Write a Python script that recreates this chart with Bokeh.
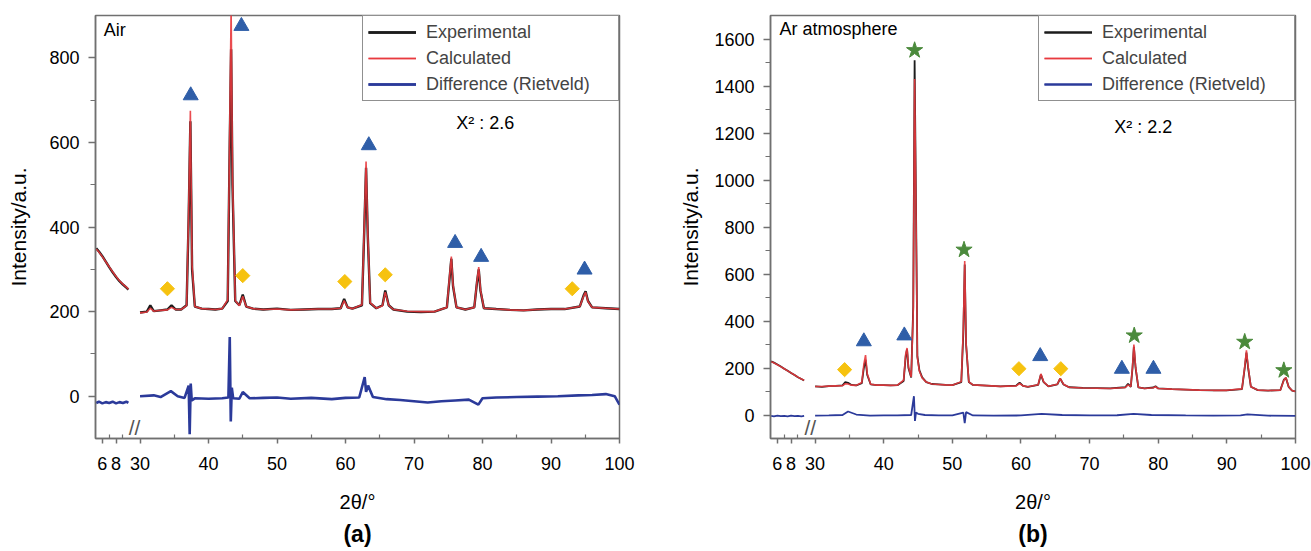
import math
from bokeh.plotting import figure
from bokeh.layouts import row
from bokeh.models import FixedTicker, Label, Legend, LegendItem, Range1d, Title
from bokeh.embed import file_html
from bokeh.resources import INLINE

FONT = "Liberation Sans"
LOW_OFFSET = 18.5  # low 2theta segment (5-10 deg) is drawn just left of the axis break at 30

# ---------------- (a) Air ----------------
AIR_LOW_2THETA = [5.1, 5.5, 6.0, 6.5, 7.0, 7.5, 8.0, 8.5, 9.0, 9.5, 9.8]
AIR_LOW_EXP = [350, 342, 331, 318, 305, 293, 282, 272, 264, 257, 252]
AIR_LOW_CALC = [348, 341, 330, 318, 306, 294, 283, 273, 265, 258, 253]
AIR_LOW_DIFF = [-16, -13, -17, -14, -16, -13, -17, -14, -16, -13, -16]

AIR_2THETA = [30.0, 31.0, 31.5, 32.0, 33.0, 34.0, 34.6, 35.2, 36.0, 36.8, 37.1, 37.35, 37.6, 38.0,
              39.0, 40.0, 41.0, 42.0, 42.8, 43.1, 43.3, 43.5, 43.9, 44.5, 45.0, 45.5, 46.5, 48.0,
              50.0, 52.0, 54.0, 56.0, 58.0, 59.3, 59.8, 60.3, 61.0, 62.4, 62.75, 63.0, 63.25, 63.6,
              64.5, 65.4, 65.8, 66.3, 67.0, 69.0, 71.0, 73.0, 74.8, 75.2, 75.45, 75.7, 76.2, 77.5,
              78.8, 79.2, 79.45, 79.7, 80.2, 82.0, 84.0, 86.0, 88.0, 90.0, 92.0, 94.2, 94.8, 95.05,
              95.4, 96.0, 98.0, 100.0]
AIR_EXP = [198, 200, 215, 201, 203, 205, 215, 205, 205, 215, 420, 650, 300, 212,
           207, 206, 205, 207, 225, 600, 820, 500, 225, 215, 240, 212, 207, 205,
           207, 204, 205, 206, 206, 208, 230, 210, 207, 215, 400, 540, 380, 220,
           208, 215, 250, 215, 205, 200, 199, 200, 210, 280, 325, 260, 210, 205,
           210, 270, 300, 250, 208, 206, 204, 203, 205, 206, 206, 212, 240, 248,
           225, 210, 208, 206]
AIR_CALC = [197, 199, 208, 201, 203, 204, 210, 205, 205, 214, 440, 675, 310, 212,
            207, 206, 205, 207, 228, 640, 920, 520, 226, 214, 236, 212, 207, 205,
            206, 204, 205, 206, 206, 208, 226, 210, 207, 216, 410, 555, 385, 221,
            208, 214, 246, 215, 205, 201, 200, 200, 210, 285, 330, 262, 210, 205,
            210, 272, 305, 252, 208, 206, 204, 203, 205, 206, 206, 212, 238, 246,
            224, 210, 208, 206]

AIR_DIFF_2THETA = [30.0, 32.0, 33.0, 34.5, 35.5, 36.5, 37.1, 37.25, 37.4, 37.55, 38.0, 40.0, 42.0,
                   42.9, 43.1, 43.25, 43.4, 43.6, 44.5, 45.0, 46.0, 48.0, 50.0, 52.0, 55.0, 58.0,
                   60.0, 62.0, 62.8, 63.0, 63.3, 64.0, 66.0, 68.0, 70.0, 72.0, 74.0, 76.0, 78.0,
                   79.4, 80.0, 82.0, 85.0, 88.0, 91.0, 94.0, 96.0, 98.0, 99.3, 100.0]
AIR_DIFF = [0, 2, -2, 12, 0, -4, 25, -90, 30, -10, -5, -6, -5,
            -3, 140, -60, 20, -5, -6, 10, -5, -4, -3, -6, -4, -7,
            -4, -3, 45, 10, 25, -2, -7, -9, -12, -15, -12, -10, -8,
            -20, -5, -3, -2, -1, 0, 2, 3, 5, 0, -20]

AIR_TRI_2THETA = [37.4, 44.8, 63.4, 76.0, 79.8, 94.9]
AIR_TRI_Y = [711, 875, 593, 362, 329, 299]
AIR_DIA_2THETA = [34.0, 45.0, 59.9, 65.8, 93.1]
AIR_DIA_Y = [254, 285, 271, 287, 254]

# ---------------- (b) Ar atmosphere ----------------
AR_LOW_2THETA = [5.1, 5.5, 6.0, 6.5, 7.0, 7.5, 8.0, 8.5, 9.0, 9.5, 9.9]
AR_LOW_EXP = [228, 223, 215, 206, 197, 188, 179, 170, 161, 153, 147]
AR_LOW_CALC = [227, 222, 214, 206, 197, 188, 179, 170, 161, 153, 148]
AR_LOW_DIFF = [-4, -6, -3, -5, -4, -6, -3, -5, -4, -6, -4]

AR_2THETA = [30.0, 31.0, 32.0, 33.0, 34.0, 34.4, 34.8, 35.3, 36.0, 36.8, 37.1, 37.35, 37.6, 38.1,
             39.0, 40.0, 41.0, 42.0, 42.9, 43.2, 43.4, 43.6, 44.0, 44.3, 44.5, 44.7, 44.9, 45.2,
             45.6, 46.2, 47.0, 48.0, 49.0, 50.0, 51.3, 51.6, 51.8, 52.0, 52.4, 53.0, 55.0, 57.0,
             59.3, 59.8, 60.3, 61.0, 62.5, 62.9, 63.3, 64.0, 65.3, 65.7, 66.2, 67.0, 69.0, 71.0,
             73.0, 75.2, 75.6, 76.0, 76.25, 76.45, 76.7, 77.1, 78.0, 79.3, 79.6, 80.0, 82.0, 84.0,
             86.0, 88.0, 90.0, 92.2, 92.6, 92.85, 93.1, 93.5, 94.5, 96.0, 97.8, 98.3, 98.6, 99.0,
             99.5, 100.0]
AR_EXP = [122, 120, 123, 124, 126, 140, 137, 128, 126, 135, 200, 235, 170, 130,
          127, 127, 126, 127, 145, 250, 280, 200, 160, 460, 1510, 900, 250, 190,
          160, 140, 132, 130, 128, 127, 140, 350, 640, 300, 140, 128, 125, 122,
          125, 138, 124, 120, 128, 172, 140, 122, 130, 155, 130, 118, 115, 114,
          113, 118, 133, 120, 200, 290, 200, 118, 113, 117, 122, 113, 110, 108,
          106, 105, 105, 110, 200, 265, 200, 120, 106, 104, 106, 150, 158, 120,
          104, 100]
AR_CALC = [121, 121, 123, 124, 125, 133, 132, 127, 126, 138, 215, 255, 175, 131,
           127, 127, 126, 127, 148, 260, 285, 205, 162, 440, 1430, 860, 245, 186,
           158, 140, 132, 130, 128, 127, 142, 370, 655, 305, 141, 128, 125, 122,
           124, 134, 124, 120, 129, 175, 141, 122, 131, 156, 131, 118, 115, 114,
           113, 117, 128, 121, 205, 300, 205, 118, 113, 116, 120, 113, 110, 108,
           106, 105, 105, 111, 205, 275, 205, 120, 106, 104, 106, 148, 160, 120,
           104, 100]

AR_DIFF_2THETA = [30.0, 32.0, 34.0, 34.8, 36.0, 38.0, 40.0, 42.0, 44.0, 44.4, 44.55, 44.7, 45.0,
                  46.0, 48.0, 50.0, 51.6, 51.8, 52.0, 53.0, 56.0, 60.0, 63.0, 66.0, 70.0, 74.0,
                  76.4, 79.0, 84.0, 88.0, 92.0, 93.0, 96.0, 100.0]
AR_DIFF = [-3, -2, 0, 15, 2, -3, -2, -2, 0, 80, -25, 10, 5,
           0, -2, -2, 10, -35, 12, -2, -3, -2, 5, 0, -2, -1,
           5, 0, -2, -3, -2, 3, -3, -4]

AR_STAR_2THETA = [44.5, 51.7, 76.5, 92.6, 98.3]
AR_STAR_Y = [1552, 703, 338, 311, 190]
AR_TRI_2THETA = [37.1, 43.0, 62.8, 74.7, 79.3]
AR_TRI_Y = [313, 338, 250, 196, 196]
AR_DIA_2THETA = [34.3, 59.7, 65.8]
AR_DIA_Y = [193, 197, 197]

X_MAJOR = [6, 8, 30, 40, 50, 60, 70, 80, 90, 100]
X_MINOR = [7, 9, 35, 45, 55, 65, 75, 85, 95]
X_LABELS = ["6", "8", "30", "40", "50", "60", "70", "80", "90", "100"]

C_EXP = "#1c1c1c"
C_CALC = "#e8383d"
C_DIFF = "#2b3a9a"
C_TRI = "#2f5ea8"
C_DIA = "#f6c20f"
C_STAR = "#4b8a3c"
C_AXIS = "#707070"


def xpos(v):
    if isinstance(v, list):
        return [t + LOW_OFFSET if t < 20 else t for t in v]
    return v + LOW_OFFSET if v < 20 else v


def make_panel(width, border_left, border_right, ymax, ymajor, yminor, ylabel_standoff,
               low_x, low_exp, low_calc, low_diff, hx, hexp, hcalc, dx, dvals, exp_w, diff_w, tag):
    p = figure(width=width, height=549, output_backend="svg", toolbar_location=None,
               x_range=Range1d(23.5, 100), y_range=Range1d(-100, ymax),
               min_border_left=border_left, min_border_right=border_right,
               min_border_top=15, min_border_bottom=110)
    p.grid.visible = False
    p.outline_line_color = C_AXIS
    p.outline_line_width = 1.5
    p.background_fill_color = "white"
    p.border_fill_color = "white"

    e1 = p.line(xpos(low_x), low_exp, color=C_EXP, line_width=exp_w)
    e2 = p.line(xpos(hx), hexp, color=C_EXP, line_width=exp_w)
    c1 = p.line(xpos(low_x), low_calc, color=C_CALC, line_width=1.6, alpha=0.9)
    c2 = p.line(xpos(hx), hcalc, color=C_CALC, line_width=1.6, alpha=0.9)
    d1 = p.line(xpos(low_x), low_diff, color=C_DIFF, line_width=diff_w)
    d2 = p.line(xpos(dx), dvals, color=C_DIFF, line_width=diff_w)

    legend = Legend(items=[LegendItem(label="Experimental", renderers=[e1, e2]),
                           LegendItem(label="Calculated", renderers=[c1, c2]),
                           LegendItem(label="Difference (Rietveld)", renderers=[d1, d2])],
                    location="top_right", margin=0, padding=5, spacing=4,
                    glyph_width=48, glyph_height=22, label_height=22, label_standoff=10,
                    label_width=187, label_text_font=FONT, label_text_font_size="18px",
                    border_line_color="#222222", border_line_width=1.5,
                    background_fill_color="white", background_fill_alpha=1.0)
    p.add_layout(legend, "center")

    xt = [xpos(v) for v in X_MAJOR]
    p.xaxis.ticker = FixedTicker(ticks=xt, minor_ticks=[xpos(v) for v in X_MINOR])
    p.xaxis.major_label_overrides = {t: lab for t, lab in zip(xt, X_LABELS)}
    p.yaxis.ticker = FixedTicker(ticks=ymajor, minor_ticks=yminor)
    for ax in (p.xaxis, p.yaxis):
        ax.axis_line_color = C_AXIS
        ax.axis_line_width = 1.5
        ax.major_tick_line_color = C_AXIS
        ax.minor_tick_line_color = C_AXIS
        ax.major_tick_line_width = 1.5
        ax.minor_tick_line_width = 1.2
        ax.major_label_text_font = FONT
        ax.major_label_text_font_size = "18px"
        ax.major_label_text_color = "black"
        ax.axis_label_text_font = FONT
        ax.axis_label_text_font_style = "normal"
        ax.axis_label_text_color = "black"
    p.xaxis.major_tick_out = 5
    p.xaxis.major_tick_in = 0
    p.xaxis.minor_tick_out = 0
    p.xaxis.minor_tick_in = 4
    p.xaxis.major_label_standoff = 13
    p.xaxis.axis_label = "2θ/°"
    p.xaxis.axis_label_text_font_size = "20px"
    p.xaxis.axis_label_standoff = 18
    p.yaxis.major_tick_out = 7
    p.yaxis.major_tick_in = 0
    p.yaxis.minor_tick_out = 5
    p.yaxis.minor_tick_in = 0
    p.yaxis.major_label_standoff = 9
    p.yaxis.axis_label = "Intensity/a.u."
    p.yaxis.axis_label_text_font_size = "21px"
    p.yaxis.axis_label_standoff = ylabel_standoff

    p.add_layout(Title(text=tag, align="center", text_font=FONT, text_font_size="23px",
                       text_font_style="bold", text_color="black", standoff=6), "below")
    return p


def add_markers(p, xs, ys, marker, color, size, angle=0.0):
    p.scatter(xpos(xs), ys, marker=marker, size=size, angle=angle,
              fill_color=color, line_color=color)


def txt(p, x, y, s, size="18px", style="normal", align="left", baseline="middle", color="black"):
    p.add_layout(Label(x=x, y=y, text=s, text_font=FONT, text_font_size=size,
                       text_font_style=style, text_align=align, text_baseline=baseline,
                       text_color=color))


# ---- panel (a)
pa = make_panel(676, 95, 57, 900, [0, 200, 400, 600, 800], [100, 300, 500, 700], 16,
                AIR_LOW_2THETA, AIR_LOW_EXP, AIR_LOW_CALC, AIR_LOW_DIFF,
                AIR_2THETA, AIR_EXP, AIR_CALC, AIR_DIFF_2THETA, AIR_DIFF, 2.4, 2.6, "(a)")
add_markers(pa, AIR_TRI_2THETA, AIR_TRI_Y, "triangle", C_TRI, 15)
add_markers(pa, AIR_DIA_2THETA, AIR_DIA_Y, "square", C_DIA, 10, math.pi / 4)
txt(pa, 24.7, 866, "Air")
txt(pa, 80.4, 647, "X² : 2.6", align="center")
txt(pa, 29.2, -100, "//", size="21px", align="center", baseline="bottom", color="#555555")

# ---- panel (b)
pb = make_panel(635, 93, 16, 1700, [0, 200, 400, 600, 800, 1000, 1200, 1400, 1600],
                [100, 300, 500, 700, 900, 1100, 1300, 1500], 9,
                AR_LOW_2THETA, AR_LOW_EXP, AR_LOW_CALC, AR_LOW_DIFF,
                AR_2THETA, AR_EXP, AR_CALC, AR_DIFF_2THETA, AR_DIFF, 1.8, 1.8, "(b)")
add_markers(pb, AR_TRI_2THETA, AR_TRI_Y, "triangle", C_TRI, 15)
add_markers(pb, AR_DIA_2THETA, AR_DIA_Y, "square", C_DIA, 10, math.pi / 4)
add_markers(pb, AR_STAR_2THETA, AR_STAR_Y, "star", C_STAR, 17)
txt(pb, 24.8, 1641, "Ar atmosphere")
txt(pb, 77.8, 1225, "X² : 2.2", align="center")
txt(pb, 29.3, -100, "//", size="21px", align="center", baseline="bottom", color="#555555")

layout = row(pa, pb)
open("out.html", "w").write(file_html(layout, INLINE))
